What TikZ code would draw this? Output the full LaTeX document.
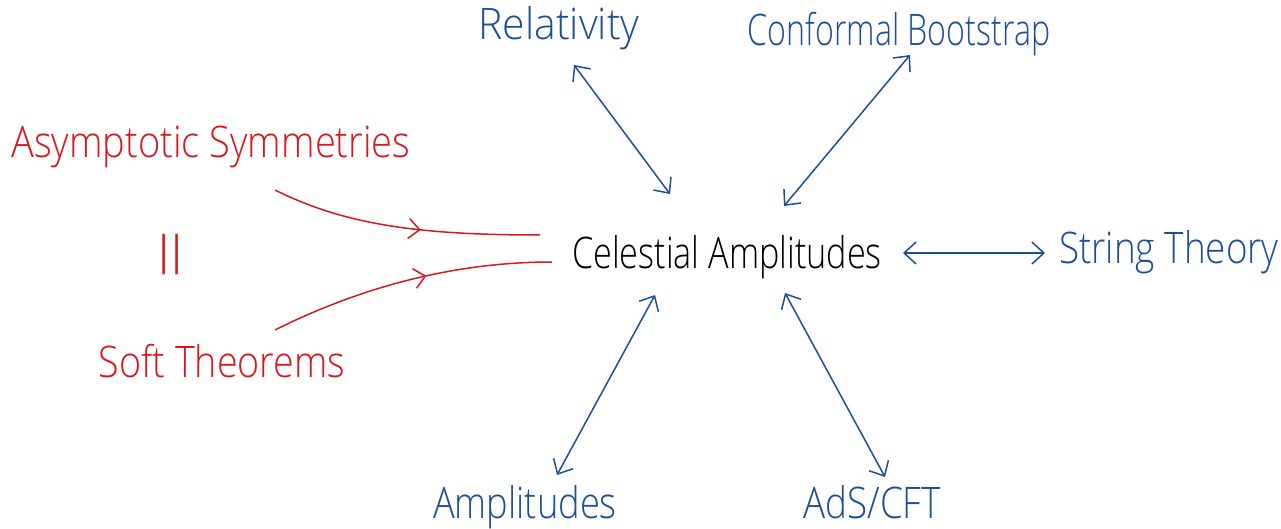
\documentclass[tikz,border=0pt]{standalone}
\usepackage{fontspec}
\setmainfont{Open Sans Light}
\usetikzlibrary{arrows.meta,decorations.markings}
\definecolor{hblue}{HTML}{1B4F96}
\definecolor{hred}{HTML}{D7181F}
\tikzset{
  lbl/.style={anchor=base,inner sep=0pt,font=\fontsize{29}{32}\selectfont,yscale=1.5,transform shape},
  bl/.style={lbl,text=hblue},
  rd/.style={lbl,text=hred},
  dbl/.style={draw=hblue,line width=1.5pt,{Straight Barb[length=12pt,width=22pt]}-{Straight Barb[length=12pt,width=22pt]}},
  redarr/.style={draw=hred,line width=1.5pt,postaction={decorate},decoration={markings,mark=at position 0.56 with {\arrow{Straight Barb[length=11pt,width=20pt]}}}}
}
\begin{document}
\begin{tikzpicture}[x=1pt,y=1pt]
\useasboundingbox (0,0) rectangle (1281,-529);
\node[lbl,xscale=1.18] (a) at (727,-268) {Celestial Amplitudes};
\node[bl,xscale=1.41] (rel) at (559,-40) {Relativity};
\node[bl,xscale=1.11] (cb) at (899,-46) {Conformal Bootstrap};
\node[bl,xscale=1.27] (st) at (1169,-263) {String Theory};
\node[bl,xscale=1.27] (ads) at (872,-518) {AdS/CFT};
\node[bl,xscale=1.25] (amp) at (525,-518) {Amplitudes};
\node[rd,xscale=1.31] (asym) at (211,-158) {Asymptotic Symmetries};
\node[rd,xscale=1.30] (soft) at (222,-377) {Soft Theorems};
\node[text=hred,inner sep=0pt,font=\fontsize{50}{50}\selectfont,rotate=90] (eq) at (178,-255) {\scalebox{1.75}[1.3]{=}};
\draw[dbl] ([shift={(15,-25)}]rel.base) -- ([shift={(-57,74)}]a.base);
\draw[dbl] ([shift={(11,-9)}]cb.base) -- ([shift={(57,62)}]a.base);
\draw[dbl] ([shift={(176,15)}]a.base) -- ([shift={(-124,10)}]st.base);
\draw[dbl] ([shift={(58,-25)}]a.base) -- ([shift={(13,41)}]ads.base);
\draw[dbl] ([shift={(-72,-27)}]a.base) -- ([shift={(32,43)}]amp.base);
\draw[redarr] ([shift={(64,-32)}]asym.base) .. controls +(70,-35) and +(-120,0) .. ([shift={(-187,33)}]a.base);
\draw[redarr] ([shift={(53,47)}]soft.base) .. controls +(70,35) and +(-112,0) .. ([shift={(-175,6)}]a.base);
\end{tikzpicture}
\end{document}
